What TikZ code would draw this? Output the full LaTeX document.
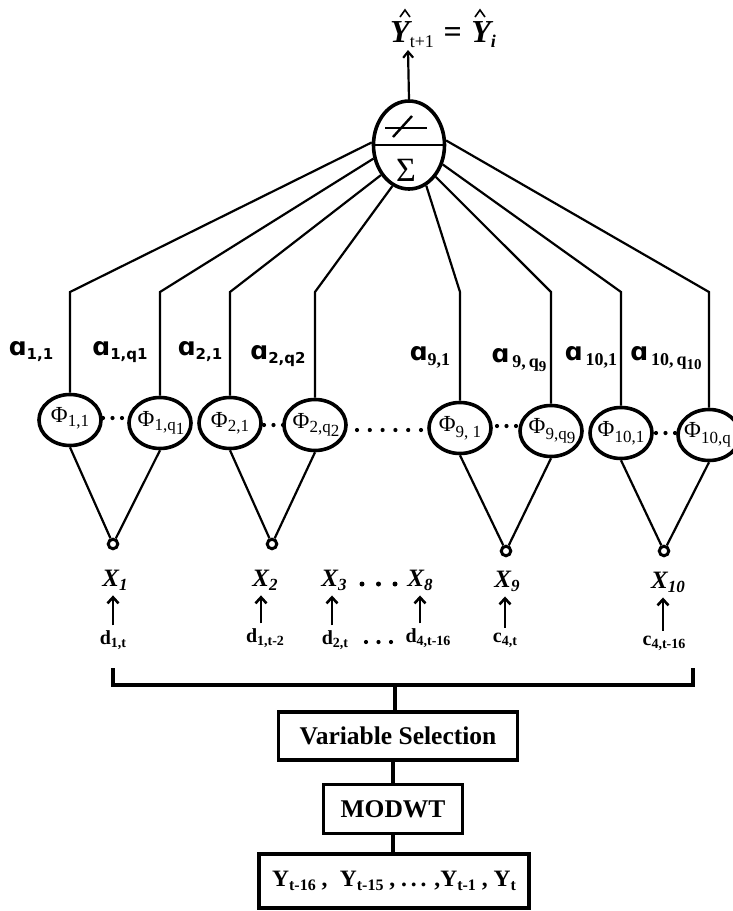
\documentclass[tikz,border=0pt]{standalone}
\usepackage{fontspec}
\setmainfont{Liberation Serif}
\newfontfamily\dvs{DejaVu Sans}
\usetikzlibrary{shapes.geometric,arrows.meta,calc}
\newcommand{\lsub}[3]{\raisebox{#1}{\fontsize{#2}{#2}\selectfont #3}}
\begin{document}
\begin{tikzpicture}[x=1pt,y=-1pt,
 wire/.style={line width=2.2pt},
 phi/.style={ellipse,draw,line width=3.6pt,minimum width=62pt,minimum height=51pt,inner sep=0pt},
 philab/.style={inner sep=0pt,font=\fontsize{23}{23}\selectfont},
 alab/.style={inner sep=0pt,font=\fontsize{25}{25}\selectfont\bfseries},
 inp/.style={circle,draw,line width=3pt,minimum size=9.5pt,inner sep=0pt},
 xlab/.style={inner sep=0pt,font=\fontsize{25}{25}\selectfont\bfseries\itshape},
 dlab/.style={inner sep=0pt,font=\fontsize{20}{20}\selectfont\bfseries},
 uparr/.style={line width=2.6pt,-{Straight Barb[length=6pt,width=11pt]},shorten <=5pt,shorten >=5pt},
 pdots/.style={line width=4.2pt,line cap=round,dash pattern=on 0pt off 9.5pt},
 ldots/.style={line width=4.2pt,line cap=round,dash pattern=on 0pt off 12.8pt},
 xdots/.style={line width=5pt,line cap=round,dash pattern=on 0pt off 16.5pt},
 ddots/.style={line width=4.2pt,line cap=round,dash pattern=on 0pt off 12.5pt},
 blk/.style={draw,line width=3.4pt,inner sep=0pt,font=\fontsize{25.5}{25.5}\selectfont\bfseries},
 thick3/.style={line width=3.4pt},
]
\useasboundingbox (0,0) rectangle (733,911);
\clip (0,0) rectangle (733,911);

% output / summation node
\node[ellipse,draw,line width=3.6pt,minimum width=71pt,minimum height=88pt,inner sep=0pt] (sum) at (409,145) {};
\draw[line width=2.8pt] (sum.west) -- (sum.east);
\node[inner sep=0pt,font=\fontsize{34}{34}\selectfont] (sig) at (406,170) {Σ};
\draw[line width=2.4pt] (385,128) -- (427,128);
\draw[line width=2.4pt] (393,137) -- (412,116);
\coordinate (out) at (408,50);
\draw[wire,-{Straight Barb[length=6pt,width=10pt]}] (sum.north) -- (out);

% title
\node[anchor=base west,inner sep=0pt] (title) at (390,42)
 {\fontsize{32}{32}\selectfont\bfseries\itshape Y\lsub{-5pt}{18}{\upshape\mdseries t+1}\hspace{0.3em}{\upshape =}\hspace{0.3em}Y\lsub{-5pt}{18}{i}};
\draw[line width=1.6pt] (400,17) -- (405,10) -- (410,17);
\draw[line width=1.6pt] (475,17) -- (480,10) -- (485,17);

% hidden-layer nodes
\coordinate (e) at (0,292);
\node[phi] (p11)  at (70,420) {};
\node[phi] (p1q)  at (160,423) {};
\node[phi] (p21)  at (230,423) {};
\node[phi] (p2q)  at (315,425) {};
\node[phi] (p91)  at (460,428) {};
\node[phi] (p9q)  at (551,431) {};
\node[phi] (p101) at (621,433) {};
\node[phi] (p10q) at (709,435) {};

\node[philab] (l11)  at ($(p11)+(0,-2)$) {Φ\lsub{-4pt}{17}{1,1}};
\node[philab] (l1q)  at ($(p1q)+(1,0)$) {Φ\lsub{-4pt}{17}{1,q\lsub{-4pt}{17}{1}}};
\node[philab] (l21)  at (p21) {Φ\lsub{-4pt}{17}{2,1}};
\node[philab] (l2q)  at ($(p2q)+(1,0)$) {Φ\lsub{-4pt}{17}{2,q\lsub{-4pt}{17}{2}}};
\node[philab] (l91)  at (p91) {Φ\lsub{-6pt}{17}{9, 1}};
\node[philab] (l9q)  at ($(p9q)+(1,0)$) {Φ\lsub{-6pt}{17}{9,q\lsub{-4pt}{17}{9}}};
\node[philab] (l101) at (p101) {Φ\lsub{-6pt}{17}{10,1}};
\node[philab,anchor=west] (l10q) at ($(p10q)+(-25,0)$) {Φ\lsub{-6pt}{17}{10,q}};

% weight connectors
\draw[wire] (p11.north)  -- (p11.north |- e)  -- (sum.176);
\draw[wire] (p1q.north)  -- (p1q.north |- e)  -- (sum.201);
\draw[wire] (p21.north)  -- (p21.north |- e)  -- (sum.227);
\draw[wire] (p2q.north)  -- (p2q.north |- e)  -- (sum.248);
\draw[wire] (p91.north)  -- (p91.north |- e)  -- (sum.293);
\draw[wire] (p9q.north)  -- (p9q.north |- e)  -- (sum.310);
\draw[wire] (p101.north) -- (p101.north |- e) -- (sum.330);
\draw[wire] (p10q.north) -- (p10q.north |- e) -- (sum.7);

% weight labels
\node[alab] (a11)  at (31,352)  {{\dvs ɑ}\lsub{-4pt}{15}{\dvs 1,1}};
\node[alab] (a1q)  at (120,352) {{\dvs ɑ}\lsub{-4pt}{15}{\dvs 1,q1}};
\node[alab] (a21)  at (200,352) {{\dvs ɑ}\lsub{-4pt}{15}{\dvs 2,1}};
\node[alab] (a2q)  at (278,356) {{\dvs ɑ}\lsub{-4pt}{15}{\dvs 2,q2}};
\node[alab] (a91)  at (430,357) {{\dvs ɑ}\lsub{-5pt}{18}{9,1}};
\node[alab] (a9q)  at (519,360) {{\dvs ɑ}\lsub{-5pt}{18}{\,9,\,q\lsub{-4pt}{15}{9}}};
\node[alab] (a101) at (591,357) {{\dvs ɑ}\lsub{-5pt}{18}{\,10,1}};
\node[alab] (a10q) at (666,358) {{\dvs ɑ}\lsub{-5pt}{18}{\,10,\,q\lsub{-4pt}{15}{10}}};

% dots between hidden nodes
\draw[pdots] (103,418) -- (122.2,418);
\draw[pdots] (264,425) -- (283.2,425);
\draw[ldots] (357,430) -- (421.2,430);
\draw[pdots] (497,426) -- (516.2,426);
\draw[pdots] (656,433) -- (675.2,433);

% input nodes
\node[inp] (i1)  at (113,544) {};
\node[inp] (i2)  at (272,544) {};
\node[inp] (i9)  at (506,551) {};
\node[inp] (i10) at (664,551) {};
\draw[wire] (p11.south)  -- (i1);
\draw[wire] (p1q.south)  -- (i1);
\draw[wire] (p21.south)  -- (i2);
\draw[wire] (p2q.south)  -- (i2);
\draw[wire] (p91.south)  -- (i9);
\draw[wire] (p9q.south)  -- (i9);
\draw[wire] (p101.south) -- (i10);
\draw[wire] (p10q.south) -- (i10);

% X labels
\node[xlab] (x1)  at (115,580) {X\lsub{-4pt}{17}{1}};
\node[xlab] (x2)  at (265,580) {X\lsub{-4pt}{17}{2}};
\node[xlab] (x3)  at (334,580) {X\lsub{-4pt}{17}{3}};
\node[xlab] (x8)  at (420,580) {X\lsub{-4pt}{17}{8}};
\node[xlab] (x9)  at (507,581) {X\lsub{-4pt}{17}{9}};
\node[xlab] (x10) at (668,582) {X\lsub{-4pt}{17}{10}};
\draw[xdots] (362,584) -- (395.2,584);

% d / c labels
\node[dlab] (d1)  at (113,640) {d\lsub{-3pt}{14}{1,t}};
\node[dlab] (d2)  at (265,638) {d\lsub{-3pt}{14}{1,t-2}};
\node[dlab] (d3)  at (335,640) {d\lsub{-3pt}{14}{2,t}};
\node[dlab] (d8)  at (428,638) {d\lsub{-3pt}{14}{4,t-16}};
\node[dlab] (d9)  at (505,640) {c\lsub{-3pt}{14}{4,t}};
\node[dlab] (d10) at (664,643) {c\lsub{-3pt}{14}{4,t-16}};
\draw[ddots] (366,642) -- (391.2,642);

\draw[uparr] ($(d1.north)+(0,0)$)  -- ($(d1.north |- x1.south)$);
\draw[uparr] ($(d2.north)+(-4,0)$) -- ($(d2.north |- x2.south)+(-4,0)$);
\draw[uparr] ($(d3.north)+(-3,0)$) -- ($(d3.north |- x3.south)+(-3,0)$);
\draw[uparr] ($(d8.north)+(-8,0)$) -- ($(d8.north |- x8.south)+(-8,0)$);
\draw[uparr] ($(d9.north)+(0,0)$)  -- ($(d9.north |- x9.south)$);
\draw[uparr] ($(d10.north)+(-1,0)$) -- ($(d10.north |- x10.south)+(-1,0)$);

% bracket and pipeline boxes
\coordinate (bl) at (113,668);
\coordinate (br) at (693,668);
\coordinate (bm) at (395,685);
\draw[thick3] (bl) -- (bl |- bm) -- (br |- bm) -- (br);
\node[blk,minimum width=239pt,minimum height=48pt] (vs) at (398,736) {Variable Selection};
\node[blk,minimum width=139pt,minimum height=49pt] (mod) at (393,809) {MODWT};
\node[blk,minimum width=270pt,minimum height=54pt,font=\fontsize{23.5}{23.5}\selectfont\bfseries] (ys) at (394,881) {Y\lsub{-4pt}{16}{t-16} ,\; Y\lsub{-4pt}{16}{t-15} , .\,.\,. ,Y\lsub{-4pt}{16}{t-1} , Y\lsub{-4pt}{16}{t}};
\draw[thick3] (bm) -- (bm |- vs.north);
\draw[thick3] (mod.north) -- (mod.north |- vs.south);
\draw[thick3] (mod.south) -- (mod.south |- ys.north);
\end{tikzpicture}
\end{document}
